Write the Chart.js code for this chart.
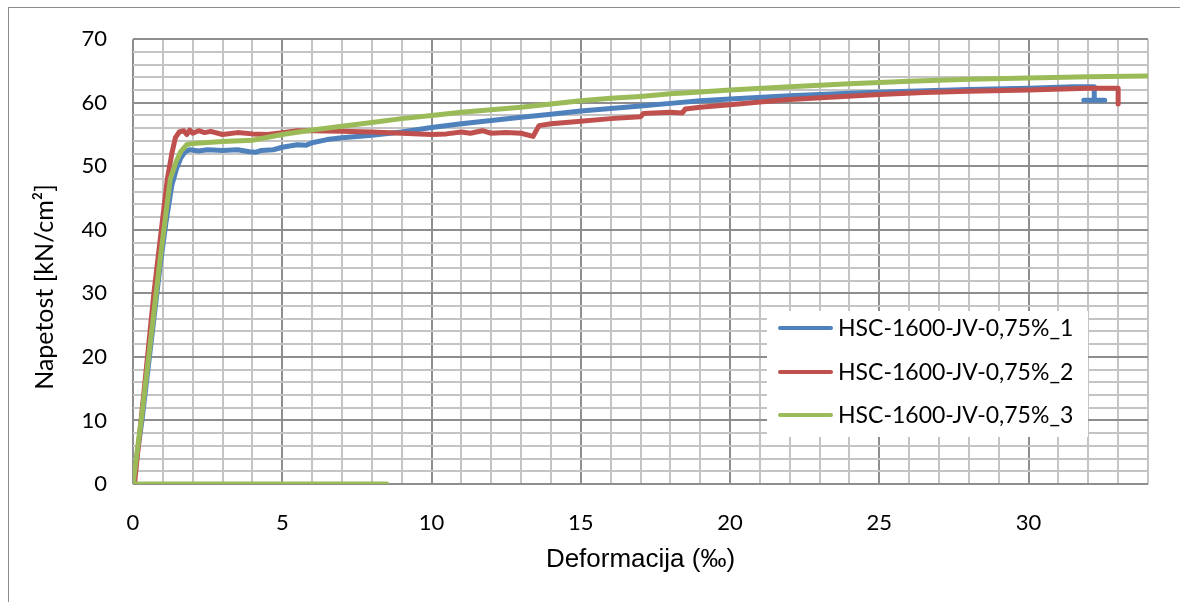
<!DOCTYPE html>
<html>
<head>
<meta charset="utf-8">
<script src="https://cdn.jsdelivr.net/npm/chart.js@4.4.0/dist/chart.umd.min.js"></script>
<style>
    html, body { margin: 0; padding: 0; background: #fff; }
    #frame { position: absolute; left: 8px; top: 7px; width: 1300px; height: 800px; border: 1px solid #8c8c8c; }
    #stress_chart { position: absolute; left: 0; top: 0; }
</style>
</head>
<body>
<div id="frame"></div>
<canvas id="stress_chart" width="1180" height="602"></canvas>
<script>
        // Measured curves (strain in ‰, stress in kN/cm2)
        const strain_1 = [0, 0.3, 0.6, 0.9, 1.1, 1.3, 1.45, 1.6, 1.75, 1.9, 2.2, 2.5, 3.0, 3.5, 3.9, 4.1, 4.3, 4.7, 5.0, 5.5, 5.8, 6.0, 6.5, 7.0, 8.0, 9.0, 10, 11, 12, 13, 14, 15, 16, 17, 18, 19, 20, 22, 24, 26, 28, 30, 31.5, 32.2, 32.2, 31.85, 32.55];
        const stress_1 = [0, 10, 22, 34, 41, 47, 49.5, 51.3, 52.3, 52.6, 52.4, 52.6, 52.5, 52.6, 52.3, 52.2, 52.5, 52.6, 53.0, 53.4, 53.3, 53.7, 54.2, 54.5, 54.9, 55.4, 56.1, 56.7, 57.2, 57.7, 58.2, 58.7, 59.1, 59.5, 59.9, 60.3, 60.6, 61.1, 61.5, 61.8, 62.1, 62.3, 62.5, 62.5, 60.4, 60.4, 60.4];

        const strain_2 = [0.05, 0.4, 0.7, 1.0, 1.15, 1.3, 1.42, 1.55, 1.7, 1.8, 1.9, 2.0, 2.2, 2.4, 2.6, 3.0, 3.5, 4.0, 4.5, 5.0, 5.5, 6.0, 7.0, 8.0, 9.0, 10.0, 10.5, 11.0, 11.3, 11.7, 12.0, 12.5, 13.0, 13.4, 13.6, 14.0, 15.0, 16.0, 17.0, 17.1, 18.0, 18.4, 18.5, 19.0, 20.0, 21.0, 22.0, 23.5, 25.0, 26.5, 28.0, 30.0, 32.0, 33.0, 33.0];
        const stress_2 = [0, 16, 30, 42, 48, 52, 54.5, 55.4, 55.6, 55.0, 55.7, 55.2, 55.6, 55.3, 55.5, 55.0, 55.3, 55.1, 55.0, 55.3, 55.6, 55.6, 55.5, 55.4, 55.2, 55.0, 55.1, 55.4, 55.2, 55.6, 55.2, 55.3, 55.2, 54.7, 56.4, 56.7, 57.1, 57.5, 57.8, 58.3, 58.5, 58.4, 59.0, 59.3, 59.7, 60.1, 60.5, 60.9, 61.3, 61.6, 61.8, 62.0, 62.3, 62.3, 59.8];

        const strain_3 = [8.5, 0, 0.3, 0.6, 0.9, 1.1, 1.25, 1.45, 1.6, 1.8, 2.0, 3.0, 4.0, 5.0, 6.0, 7.0, 8.0, 9.0, 10, 11, 12, 13, 14, 15, 16, 17, 18, 19, 20, 22, 24, 26, 28, 30, 32, 34];
        const stress_3 = [0, 0, 11, 23, 35, 42.5, 48, 50.8, 52.3, 53.4, 53.6, 53.9, 54.1, 55.0, 55.7, 56.3, 56.9, 57.5, 58.0, 58.5, 58.9, 59.3, 59.8, 60.3, 60.7, 61.0, 61.4, 61.7, 62.0, 62.5, 63.0, 63.4, 63.7, 63.9, 64.1, 64.2];

        const series_names = ['HSC-1600-JV-0,75%_1', 'HSC-1600-JV-0,75%_2', 'HSC-1600-JV-0,75%_3'];
        const x_tick_labels = [0, 5, 10, 15, 20, 25, 30];
        const y_tick_labels = [0, 10, 20, 30, 40, 50, 60, 70];

        const toPoints = (xs, ys) => xs.map((x, i) => ({ x: x, y: ys[i] }));

        const colors = ['#4f81bd', '#c0504d', '#9bbb59'];
        const gridMajor = '#8e8e8e';
        const gridMinor = '#c4c4c4';
        const calibriLike = 'Lato, "Open Sans", sans-serif';

        const data = {
            datasets: [
                { label: series_names[0], data: toPoints(strain_1, stress_1), borderColor: colors[0], order: 3 },
                { label: series_names[1], data: toPoints(strain_2, stress_2), borderColor: colors[1], order: 2 },
                { label: series_names[2], data: toPoints(strain_3, stress_3), borderColor: colors[2], order: 1 }
            ].map(ds => Object.assign(ds, {
                borderWidth: 5,
                pointRadius: 0,
                tension: 0,
                fill: false,
                borderCapStyle: 'round',
                borderJoinStyle: 'round',
                backgroundColor: ds.borderColor
            }))
        };

        // legend box sitting inside the plot area + rotated y title
        const extras = {
            id: 'extras',
            afterDraw(chart) {
                const ctx = chart.ctx;
                ctx.save();
                ctx.fillStyle = '#fff';
                ctx.fillRect(767, 311, 321, 126);
                const rows = [328, 372, 415];
                chart.data.datasets.forEach((ds, i) => {
                    ctx.strokeStyle = ds.borderColor;
                    ctx.lineWidth = 4;
                    ctx.lineCap = 'round';
                    ctx.beginPath();
                    ctx.moveTo(780, rows[i]);
                    ctx.lineTo(831, rows[i]);
                    ctx.stroke();
                    ctx.fillStyle = '#000';
                    ctx.font = '23px ' + calibriLike;
                    ctx.textBaseline = 'middle';
                    ctx.textAlign = 'left';
                    ctx.fillText(ds.label, 838, rows[i] + 1);
                });
                ctx.translate(45, 287);
                ctx.rotate(-Math.PI / 2);
                ctx.textAlign = 'center';
                ctx.textBaseline = 'middle';
                ctx.font = '25px ' + calibriLike;
                ctx.fillText('Napetost [kN/cm²]', 0, 0);
                ctx.restore();
            }
        };

        const config = {
            type: 'line',
            data: data,
            options: {
                responsive: false,
                animation: false,
                layout: { padding: { left: 0, right: 32, top: 37, bottom: 0 } },
                plugins: {
                    legend: { display: false },
                    tooltip: { enabled: false }
                },
                scales: {
                    x: {
                        type: 'linear',
                        min: 0,
                        max: 34,
                        afterFit: scale => { scale.height = 118; },
                        border: { display: false },
                        grid: {
                            drawTicks: false,
                            lineWidth: 2,
                            color: c => x_tick_labels.includes(c.tick.value) ? gridMajor : gridMinor
                        },
                        ticks: {
                            stepSize: 1,
                            maxTicksLimit: 100,
                            autoSkip: false,
                            maxRotation: 0,
                            padding: 26,
                            color: '#000',
                            font: { family: calibriLike, size: 22 },
                            callback: v => x_tick_labels.includes(v) ? String(v) : ''
                        },
                        title: {
                            display: true,
                            text: 'Deformacija (‰)',
                            color: '#000',
                            font: { family: '"Liberation Sans", Arial, sans-serif', size: 26 },
                            padding: { top: 0, bottom: 27 }
                        }
                    },
                    y: {
                        min: 0,
                        max: 70,
                        afterFit: scale => { scale.width = 133; },
                        border: { display: false },
                        grid: {
                            drawTicks: false,
                            lineWidth: 2,
                            color: c => y_tick_labels.includes(c.tick.value) ? gridMajor : gridMinor
                        },
                        ticks: {
                            stepSize: 2,
                            maxTicksLimit: 100,
                            autoSkip: false,
                            padding: 26,
                            color: '#000',
                            font: { family: calibriLike, size: 22 },
                            callback: v => y_tick_labels.includes(v) ? String(v) : ''
                        }
                    }
                }
            },
            plugins: [extras]
        };

        const stress_chart = new Chart(document.getElementById('stress_chart'), config);
</script>
</body>
</html>
